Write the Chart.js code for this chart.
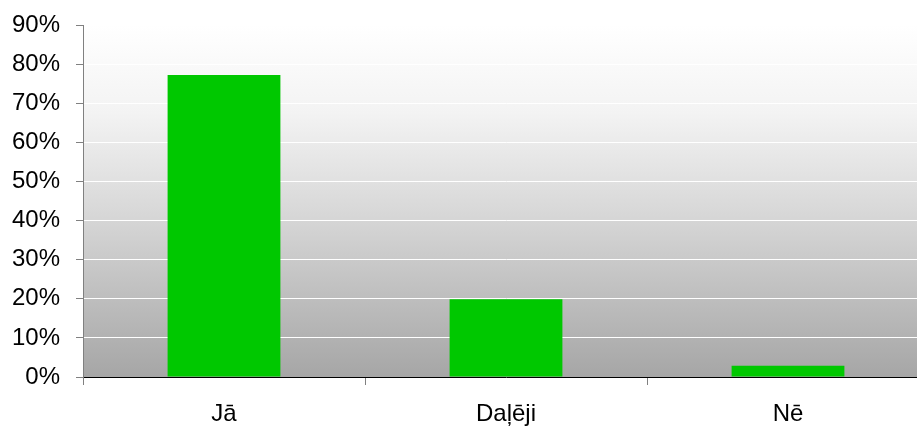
<!DOCTYPE html>
<html lang="lv">
<head>
<meta charset="utf-8">
<title>Jā / Daļēji / Nē</title>
<script src="https://cdn.jsdelivr.net/npm/chart.js@4/dist/chart.umd.min.js"></script>
<style>
  html, body { margin: 0; padding: 0; background: #fff; overflow: hidden; }
  /* plot area runs a little past the right edge of the window, as in the original */
  #wrap { width: 929px; height: 427px; }
</style>
</head>
<body>
<div id="wrap"><canvas id="chart"></canvas></div>
<script>
var categories = ["Jā", "Daļēji", "Nē"];
var values = [77.2, 19.9, 2.9];
var yTicks = [0, 10, 20, 30, 40, 50, 60, 70, 80, 90];

// grey gradient behind the plot area
var bgPlugin = {
  id: 'plotBg',
  beforeDraw: function (chart) {
    var a = chart.chartArea, ctx = chart.ctx;
    var g = ctx.createLinearGradient(0, a.top, 0, a.bottom);
    g.addColorStop(0, '#ffffff');
    g.addColorStop(0.25, '#f3f3f3');
    g.addColorStop(0.55, '#d6d6d6');
    g.addColorStop(1, '#a6a6a6');
    ctx.save();
    ctx.fillStyle = g;
    ctx.fillRect(a.left, a.top, a.right - a.left, a.bottom - a.top);
    ctx.restore();
  }
};

new Chart(document.getElementById('chart'), {
  type: 'bar',
  data: {
    labels: categories,
    datasets: [{
      data: values,
      backgroundColor: '#00c800',
      barPercentage: 0.4,
      categoryPercentage: 1.0
    }]
  },
  plugins: [bgPlugin],
  options: {
    responsive: true,
    maintainAspectRatio: false,
    animation: false,
    layout: { padding: { top: 25, right: 0, left: 0, bottom: 0 } },
    plugins: { legend: { display: false }, tooltip: { enabled: false } },
    scales: {
      x: {
        grid: { drawOnChartArea: false, offset: true, tickLength: 8, tickColor: '#808080' },
        border: { color: '#000000', width: 1 },
        ticks: { color: '#000', font: { family: 'Liberation Sans', size: 24 }, padding: 15 },
        afterFit: function (s) { s.height = 50; }
      },
      y: {
        min: 0, max: 90,
        afterBuildTicks: function (s) { s.ticks = yTicks.map(function (v) { return { value: v }; }); },
        grid: { color: '#ffffff', tickColor: '#808080', tickLength: 7 },
        border: { color: '#808080', width: 1 },
        ticks: {
          color: '#000', padding: 16,
          font: { family: 'Liberation Sans', size: 24 },
          callback: function (v) { return v + '%'; }
        },
        afterFit: function (s) { s.width = 83; s.paddingTop = 0; s.paddingBottom = 0; }
      }
    }
  }
});
</script>
</body>
</html>
